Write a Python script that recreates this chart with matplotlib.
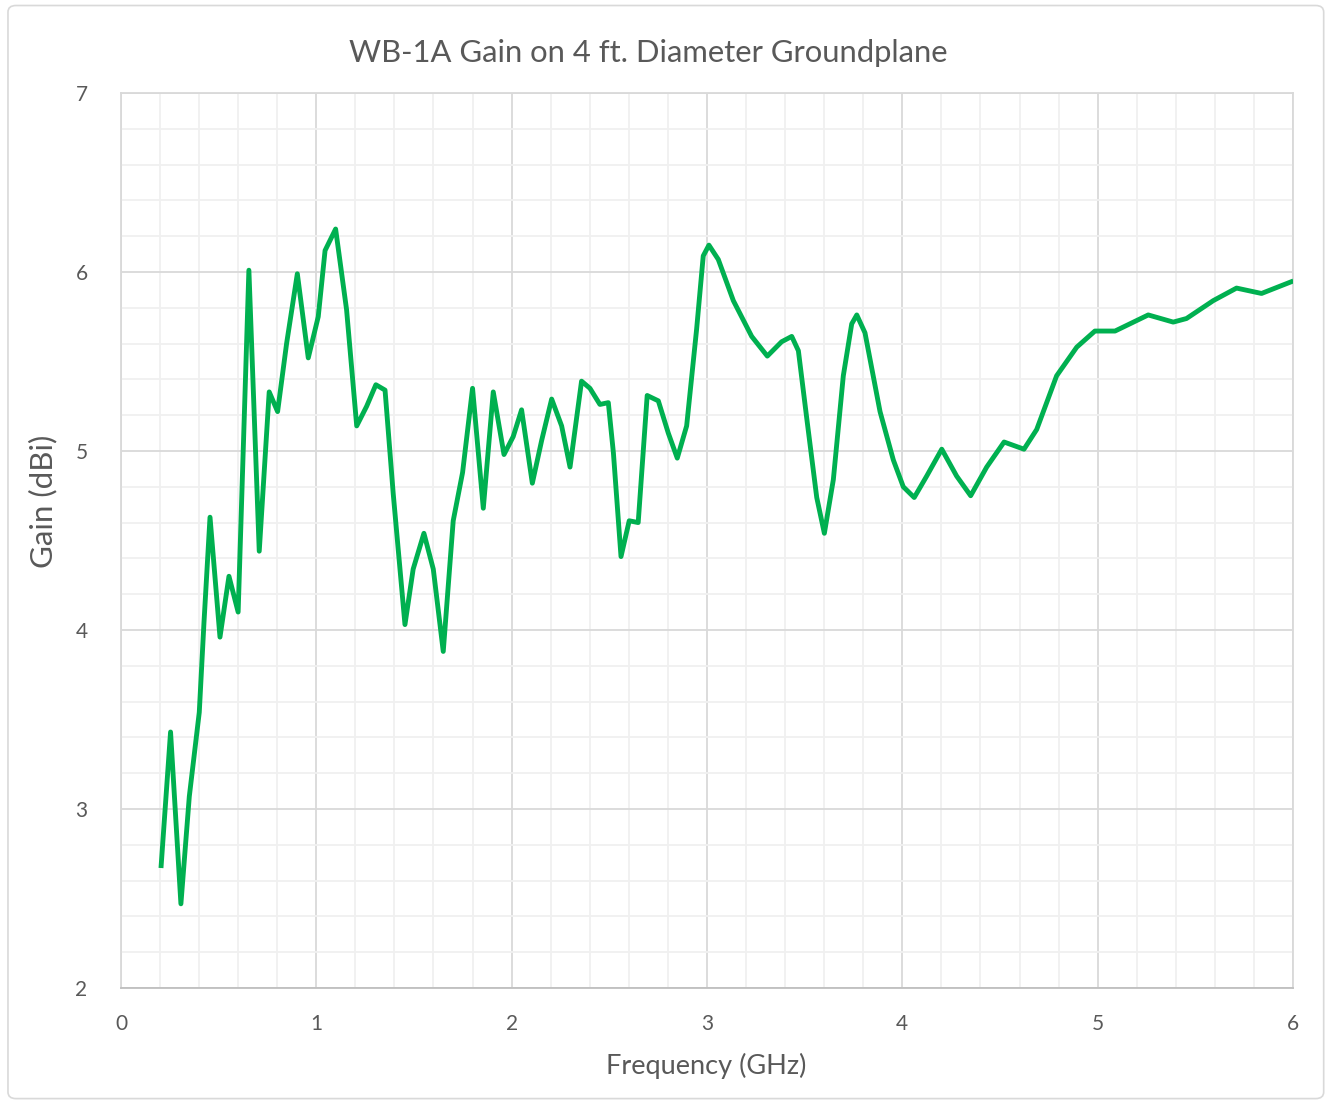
import matplotlib
matplotlib.use("Agg")
import matplotlib.pyplot as plt
from matplotlib.patches import FancyBboxPatch
from matplotlib.ticker import MultipleLocator

# ---- data ----
freq_ghz = [0.205, 0.254, 0.307, 0.350, 0.401, 0.425, 0.456, 0.507, 0.553, 0.600,
            0.655, 0.708, 0.759, 0.802, 0.848, 0.903, 0.959, 1.010, 1.045, 1.099,
            1.155, 1.207, 1.258, 1.305, 1.352, 1.394, 1.454, 1.496, 1.551, 1.599,
            1.650, 1.701, 1.749, 1.800, 1.855, 1.906, 1.961, 2.008, 2.051, 2.106,
            2.154, 2.205, 2.256, 2.299, 2.358, 2.401, 2.452, 2.495, 2.521, 2.560,
            2.602, 2.648, 2.694, 2.751, 2.802, 2.848, 2.896, 2.947, 2.981, 3.010,
            3.058, 3.135, 3.229, 3.309, 3.382, 3.434, 3.468, 3.510, 3.562, 3.601,
            3.647, 3.698, 3.741, 3.767, 3.809, 3.886, 3.954, 4.005, 4.061, 4.125,
            4.202, 4.278, 4.350, 4.432, 4.521, 4.623, 4.688, 4.790, 4.893, 4.986,
            5.089, 5.259, 5.387, 5.455, 5.592, 5.711, 5.839, 6.002]
gain_dbi = [2.67, 3.43, 2.47, 3.07, 3.54, 4.04, 4.63, 3.96, 4.30, 4.10,
            6.01, 4.44, 5.33, 5.22, 5.60, 5.99, 5.52, 5.75, 6.12, 6.24,
            5.79, 5.14, 5.25, 5.37, 5.34, 4.76, 4.03, 4.34, 4.54, 4.34,
            3.88, 4.61, 4.88, 5.35, 4.68, 5.33, 4.98, 5.08, 5.23, 4.82,
            5.06, 5.29, 5.14, 4.91, 5.39, 5.35, 5.26, 5.27, 4.99, 4.41,
            4.61, 4.60, 5.31, 5.28, 5.10, 4.96, 5.14, 5.68, 6.09, 6.15,
            6.07, 5.84, 5.64, 5.53, 5.61, 5.64, 5.56, 5.19, 4.74, 4.54,
            4.84, 5.42, 5.71, 5.76, 5.66, 5.22, 4.95, 4.80, 4.74, 4.86,
            5.01, 4.86, 4.75, 4.91, 5.05, 5.01, 5.12, 5.42, 5.58, 5.67,
            5.67, 5.76, 5.72, 5.74, 5.84, 5.91, 5.88, 5.95]

x_ticks = [0, 1, 2, 3, 4, 5, 6]
y_ticks = [2, 3, 4, 5, 6, 7]
title = "WB-1A Gain on 4 ft. Diameter Groundplane"
x_label = "Frequency (GHz)"
y_label = "Gain (dBi)"

TXT = "#595959"
plt.rcParams['font.family'] = ['Lato', 'DejaVu Sans']

fig = plt.figure(figsize=(13.29, 11.03), dpi=100)
fig.patch.set_facecolor("white")
border = FancyBboxPatch((0.006, 0.004), 0.990, 0.991,
                        boxstyle="round,pad=0,rounding_size=0.006",
                        transform=fig.transFigure, facecolor="none",
                        edgecolor="#d9d9d9", linewidth=1.2, zorder=5)
fig.patches.append(border)

ax = fig.add_axes([0.0910, 0.1043, 0.8819, 0.8114])
ax.set_facecolor("white")
ax.set_xlim(0, 6)
ax.set_ylim(2, 7)
ax.set_xticks(x_ticks)
ax.set_yticks(y_ticks)
ax.xaxis.set_minor_locator(MultipleLocator(0.2))
ax.yaxis.set_minor_locator(MultipleLocator(0.2))
ax.grid(which="major", color="#d9d9d9", linewidth=1.3, zorder=1)
ax.grid(which="minor", color="#f0f0f0", linewidth=1.3, zorder=0.5)
ax.set_axisbelow(True)
for s in ax.spines.values():
    s.set_color("#d9d9d9")
    s.set_linewidth(1.3)
ax.spines['bottom'].set_color("#bfbfbf")
ax.tick_params(which="both", length=0)
ax.tick_params(axis="x", pad=19, labelsize=15, labelcolor=TXT)
ax.tick_params(axis="y", pad=24, labelsize=15, labelcolor=TXT)

ax.plot(freq_ghz, gain_dbi, color="#00b050", linewidth=3.5,
        solid_joinstyle="round", solid_capstyle="butt", zorder=3)

fig.text(0.4876, 0.952, title, ha="center", va="center", fontsize=22.3, color=TXT)
ax.set_xlabel(x_label, fontsize=19.5, color=TXT)
ax.set_ylabel(y_label, fontsize=22.5, color=TXT)
ax.xaxis.set_label_coords(0.499, -0.072)
ax.yaxis.set_label_coords(-0.054, 0.544)

fig.savefig("out.png", dpi=100, facecolor="white")
